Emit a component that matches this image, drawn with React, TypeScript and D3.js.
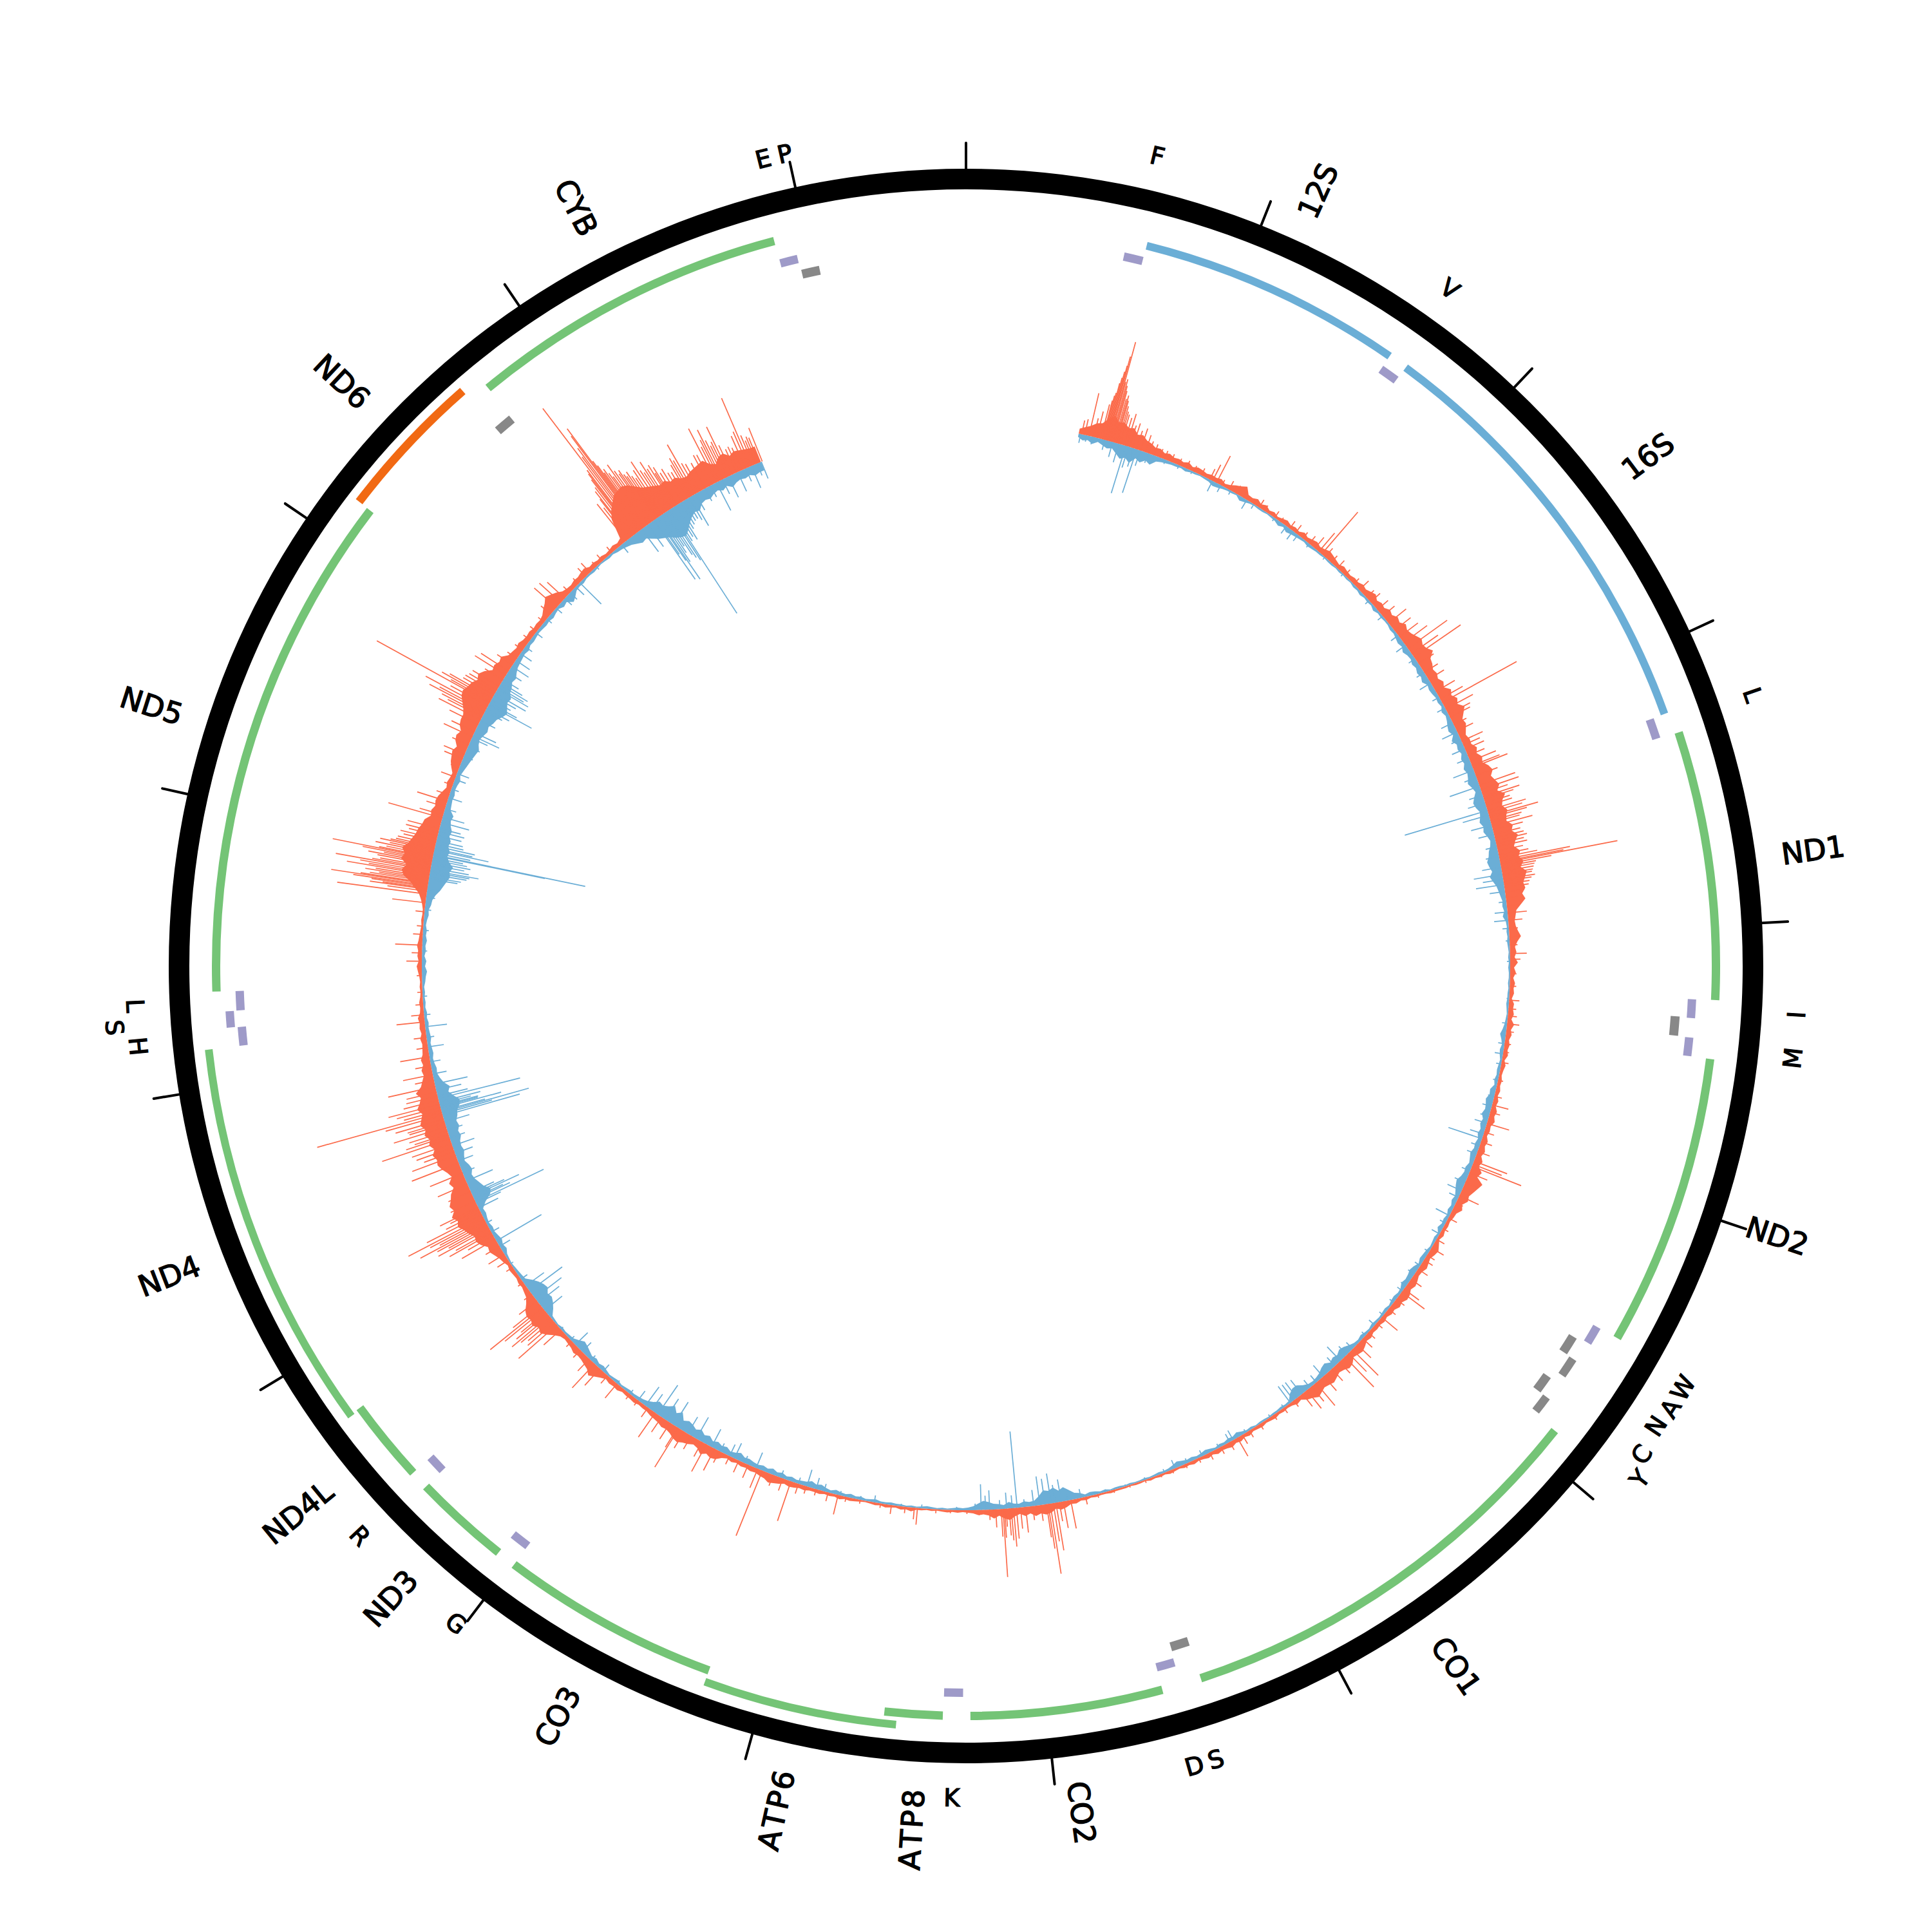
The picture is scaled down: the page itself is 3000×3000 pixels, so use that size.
import { useEffect, useRef } from 'react';
import * as d3 from 'd3';

const GENOME = 16569;
const tickPositions = [0, 1000, 2000, 3000, 4000, 5000, 6000, 7000, 8000, 9000, 10000, 11000, 12000, 13000, 14000, 15000, 16000];

// name, start, end
const rrnaGenes: [string, number, number][] = [['12S', 648, 1601], ['16S', 1671, 3229]];
const innerGenes: [string, number, number][] = [
  ['ND1', 3307, 4262], ['ND2', 4470, 5511], ['CO1', 5904, 7445], ['CO2', 7586, 8269],
  ['ATP8', 8366, 8572], ['CO3', 9207, 9990], ['ND3', 10059, 10404], ['ND4L', 10470, 10766],
  ['ND5', 12337, 14148], ['CYB', 14747, 15887],
];
const outerGenes: [string, number, number][] = [['ATP6', 8527, 9207], ['ND4', 10760, 12137]];
const minusGenes: [string, number, number][] = [['ND6', 14149, 14673]];
const trnaPlus: [string, number, number][] = [
  ['F', 577, 647], ['V', 1602, 1670], ['L', 3230, 3304], ['I', 4263, 4331], ['M', 4402, 4469],
  ['W', 5512, 5579], ['D', 7518, 7585], ['K', 8295, 8364], ['G', 9991, 10058], ['R', 10405, 10469],
  ['H', 12138, 12206], ['L2', 12266, 12336], ['T', 15888, 15953],
];
const trnaS2: [string, number, number][] = [['S2', 12207, 12265]];
const trnaMinus: [string, number, number][] = [
  ['Q', 4329, 4400], ['A', 5587, 5655], ['C', 5761, 5826], ['S', 7446, 7514], ['E', 14674, 14742], ['P', 15956, 16023],
];
const trnaMinusHigh: [string, number, number][] = [['N', 5657, 5729], ['Y', 5826, 5891]];

// radial labels: text, position
const longLabels: [string, number][] = [
  ['12S', 1124], ['16S', 2450], ['ND1', 3784], ['ND2', 4990], ['CO1', 6674], ['CO2', 7927],
  ['ATP8', 8450], ['ATP6', 8867], ['CO3', 9598], ['ND3', 10231], ['ND4L', 10618], ['ND4', 11448],
  ['ND5', 13242], ['ND6', 14411], ['CYB', 15317],
];
// tangential labels: text, position, radius
const shortLabels: [string, number, number][] = [
  ['F', 612, 1292], ['V', 1636, 1292], ['L', 3267, 1292], ['I', 4297, 1292], ['M', 4435, 1292],
  ['W', 5545, 1292], ['A', 5621, 1292], ['N', 5693, 1288], ['C', 5793, 1295], ['Y', 5858, 1315],
  ['S', 7480, 1292], ['D', 7551, 1292], ['K', 8330, 1292], ['G', 10024, 1292], ['R', 10437, 1292],
  ['H', 12172, 1292], ['S', 12236, 1326], ['L', 12301, 1292], ['E', 15920, 1292], ['P', 15990, 1292],
];

// envelope of each coverage series, one value per 25 bp from 550 to 15550 (20 values = 500 bp per row)
const bodyStart = 550;
const redBody = [
  8, 12, 16, 22, 24, 34, 40, 32, 34, 28, 30, 22, 24, 18, 16, 12, 13, 9, 11, 8,
  9, 7, 10, 6, 9, 8, 6, 8, 7, 9, 5, 7, 11, 14, 18, 8, 7, 10, 6, 9,
  5, 7, 4, 6, 8, 5, 7, 5, 9, 6, 8, 10, 7, 9, 12, 10, 8, 6, 9, 7,
  6, 8, 7, 10, 8, 11, 14, 9, 12, 10, 15, 12, 17, 14, 20, 16, 18, 22, 26, 22,
  24, 30, 20, 18, 14, 16, 13, 18, 14, 22, 18, 24, 20, 28, 22, 16, 18, 14, 10, 13,
  12, 18, 14, 20, 17, 24, 28, 22, 26, 30, 24, 34, 27, 24, 30, 26, 24, 32, 28, 36,
  30, 26, 34, 30, 36, 30, 38, 34, 30, 32, 26, 30, 22, 14, 12, 10, 11, 14, 18, 12,
  8, 10, 7, 12, 6, 9, 5, 8, 6, 7, 4, 8, 7, 9, 6, 11, 7, 9, 6, 8,
  6, 8, 4, 7, 5, 4, 6, 5, 7, 5, 8, 6, 10, 8, 11, 7, 8, 6, 10, 8,
  11, 8, 13, 10, 18, 14, 26, 22, 18, 14, 16, 10, 14, 8, 7, 5, 6, 5, 7, 4,
  8, 12, 10, 7, 9, 11, 8, 7, 10, 12, 9, 13, 14, 10, 12, 8, 9, 6, 8, 6,
  7, 6, 9, 7, 11, 14, 12, 10, 16, 18, 14, 12, 15, 18, 16, 14, 17, 20, 15, 12,
  6, 8, 5, 4, 5, 4, 6, 5, 4, 6, 5, 4, 7, 5, 8, 6, 9, 7, 6, 8,
  5, 7, 5, 4, 6, 4, 5, 3, 4, 5, 3, 4, 3, 4, 2, 3, 3, 2, 3, 3,
  3, 4, 3, 3, 4, 3, 5, 4, 7, 6, 10, 12, 9, 14, 16, 13, 16, 11, 14, 10,
  13, 18, 15, 10, 14, 9, 7, 8, 5, 4, 3, 4, 3, 4, 3, 2, 3, 2, 3, 3,
  6, 4, 5, 3, 4, 5, 3, 4, 3, 2, 3, 4, 5, 4, 6, 4, 5, 4, 6, 5,
  5, 7, 6, 8, 9, 7, 10, 12, 14, 10, 9, 7, 8, 6, 7, 5, 7, 5, 8, 14,
  16, 13, 18, 12, 10, 14, 16, 20, 18, 14, 12, 13, 10, 9, 8, 6, 6, 5, 7, 6,
  6, 5, 8, 7, 8, 6, 10, 15, 20, 14, 12, 10, 9, 11, 8, 7, 6, 8, 14, 22,
  28, 24, 30, 26, 28, 24, 16, 10, 8, 6, 7, 5, 6, 7, 5, 8, 10, 14, 18, 16,
  24, 28, 26, 32, 36, 42, 38, 44, 36, 40, 34, 30, 22, 26, 18, 22, 28, 32, 30, 34,
  28, 34, 30, 36, 32, 38, 34, 30, 36, 30, 26, 32, 22, 18, 14, 16, 12, 14, 10, 9,
  8, 10, 7, 9, 8, 10, 6, 5, 6, 4, 3, 4, 3, 4, 6, 8, 5, 7, 6, 8,
  6, 5, 4, 3, 4, 3, 3, 5, 8, 12, 20, 28, 40, 44, 38, 48, 44, 50, 42, 38,
  34, 32, 28, 26, 18, 20, 16, 18, 16, 12, 8, 10, 8, 7, 12, 16, 18, 20, 16, 22,
  24, 20, 26, 28, 28, 32, 38, 44, 46, 42, 40, 34, 38, 32, 22, 24, 20, 22, 14, 12,
  10, 12, 9, 8, 9, 7, 8, 7, 9, 14, 18, 24, 20, 16, 10, 8, 7, 9, 8, 10,
  11, 7, 8, 6, 7, 5, 6, 8, 6, 9, 40, 52, 60, 68, 70, 72, 68, 60, 52, 48,
  44, 40, 42, 36, 38, 32, 30, 34, 36, 38, 40, 30, 26, 34, 36, 28, 32, 30, 28, 26,
  26,
];
const blueBody = [
  5, 9, 7, 11, 6, 9, 12, 10, 16, 22, 18, 24, 14, 18, 12, 16, 8, 6, 5, 4,
  4, 3, 5, 3, 3, 2, 3, 4, 7, 6, 4, 3, 3, 2, 7, 5, 3, 2, 3, 3,
  2, 3, 4, 7, 4, 8, 6, 5, 4, 3, 5, 4, 3, 3, 2, 3, 3, 2, 3, 2,
  3, 2, 4, 3, 5, 3, 4, 3, 6, 3, 4, 3, 3, 5, 4, 6, 8, 6, 10, 7,
  6, 9, 7, 10, 8, 11, 6, 8, 7, 5, 6, 4, 8, 5, 7, 10, 12, 8, 14, 9,
  11, 8, 12, 10, 14, 11, 13, 16, 12, 9, 14, 18, 16, 12, 14, 17, 13, 15, 11, 8,
  10, 14, 16, 20, 18, 15, 20, 16, 12, 10, 8, 6, 7, 5, 8, 4, 3, 4, 3, 4,
  3, 2, 3, 2, 3, 2, 2, 3, 2, 3, 3, 4, 3, 2, 3, 4, 6, 9, 6, 4,
  6, 5, 3, 4, 5, 4, 6, 4, 9, 8, 12, 10, 9, 12, 8, 10, 7, 9, 6, 8,
  7, 10, 8, 6, 9, 8, 10, 14, 12, 9, 6, 8, 5, 7, 4, 6, 5, 8, 3, 5,
  4, 3, 5, 6, 7, 4, 8, 10, 8, 7, 9, 5, 4, 6, 5, 3, 5, 4, 3, 4,
  5, 3, 4, 6, 4, 5, 8, 12, 14, 10, 12, 9, 14, 12, 8, 6, 5, 6, 10, 16,
  16, 12, 4, 3, 4, 3, 3, 2, 3, 3, 2, 4, 3, 5, 8, 5, 6, 4, 5, 3,
  5, 7, 5, 4, 6, 5, 7, 9, 6, 4, 3, 4, 3, 2, 3, 2, 2, 3, 2, 3,
  3, 2, 4, 3, 5, 6, 4, 8, 10, 16, 22, 18, 24, 20, 22, 14, 8, 7, 9, 6,
  7, 10, 6, 8, 9, 12, 14, 10, 6, 4, 3, 4, 3, 2, 3, 2, 3, 4, 3, 2,
  3, 2, 3, 3, 4, 3, 3, 5, 4, 3, 5, 4, 6, 4, 5, 7, 4, 6, 9, 7,
  10, 7, 6, 5, 7, 5, 8, 6, 9, 6, 8, 6, 7, 9, 8, 12, 9, 7, 11, 9,
  12, 9, 14, 11, 16, 12, 16, 18, 14, 24, 18, 26, 20, 16, 18, 12, 8, 6, 5, 4,
  5, 4, 3, 5, 4, 3, 5, 7, 5, 8, 6, 9, 12, 14, 9, 5, 4, 3, 4, 2,
  3, 4, 12, 18, 22, 20, 26, 24, 20, 14, 6, 5, 4, 3, 2, 3, 4, 8, 6, 9,
  7, 5, 6, 4, 5, 7, 6, 14, 26, 30, 22, 18, 14, 12, 16, 14, 10, 12, 15, 13,
  14, 18, 16, 20, 18, 22, 24, 30, 32, 24, 18, 22, 14, 10, 7, 8, 6, 5, 7, 6,
  5, 7, 6, 5, 6, 4, 5, 3, 4, 3, 4, 3, 5, 6, 8, 5, 7, 4, 6, 5,
  7, 5, 6, 4, 5, 7, 6, 9, 10, 14, 20, 24, 28, 32, 30, 34, 26, 22, 24, 20,
  22, 18, 20, 16, 14, 16, 9, 8, 7, 8, 6, 7, 9, 6, 8, 10, 12, 14, 16, 18,
  14, 12, 15, 18, 16, 20, 22, 28, 32, 28, 24, 26, 20, 18, 14, 16, 12, 9, 8, 7,
  6, 8, 5, 6, 5, 4, 5, 6, 5, 7, 5, 4, 8, 6, 14, 10, 5, 4, 5, 3,
  3, 4, 3, 2, 3, 4, 3, 5, 6, 8, 10, 14, 18, 16, 22, 28, 32, 36, 42, 46,
  48, 42, 34, 28, 24, 26, 18, 16, 18, 14, 12, 16, 12, 18, 14, 12, 14, 12, 16, 14,
  14,
];

// individual peaks: position, height
const redPeaks: [number, number][] = [
  [565, 22], [580, 25], [601, 68], [625, 30], [640, 42], [660, 55], [668, 62], [672, 70], [676, 75], [680, 91], [684, 100], [688, 110], [692, 120], [695, 135], [700, 159], [704, 95], [710, 100], [715, 90], [720, 82], [727, 70], [733, 76], [738, 68], [745, 60], [752, 52], [760, 48], [775, 44], [789, 52], [805, 35], [820, 40], [840, 30], [860, 36], [885, 28], [905, 20], [930, 18], [960, 14], [985, 14], [1020, 13], [1060, 11], [1100, 13], [1140, 10], [1180, 12], [1225, 18], [1240, 28], [1261, 47], [1290, 10], [1330, 15], [1370, 14], [1410, 10], [1470, 9], [1500, 14], [1530, 10], [1590, 12], [1625, 8], [1680, 14], [1715, 15], [1760, 12], [1800, 15], [1835, 22], [1860, 38], [1878, 86], [1900, 18], [1940, 14], [1980, 16], [2030, 12], [2090, 12], [2130, 20], [2180, 16], [2210, 20], [2260, 22], [2300, 24], [2345, 35], [2390, 32], [2430, 36], [2465, 45], [2499, 75], [2530, 50], [2550, 88], [2590, 28], [2640, 25], [2680, 28], [2748, 34], [2790, 40], [2810, 132], [2845, 48], [2873, 38], [2890, 35], [2930, 22], [2964, 28], [3019, 36], [3040, 28], [3061, 32], [3095, 28], [3125, 43], [3148, 46], [3157, 58], [3200, 36], [3249, 59], [3272, 62], [3290, 42], [3309, 59], [3320, 48], [3340, 40], [3355, 42], [3378, 62], [3390, 55], [3406, 79], [3415, 60], [3430, 50], [3440, 46], [3457, 65], [3475, 48], [3498, 42], [3515, 46], [3530, 50], [3545, 44], [3560, 48], [3580, 40], [3600, 47], [3615, 60], [3627, 111], [3635, 100], [3641, 185], [3650, 80], [3660, 55], [3670, 52], [3682, 50], [3695, 48], [3705, 46], [3720, 50], [3730, 44], [3745, 40], [3760, 38], [3783, 30], [3810, 18], [3850, 20], [3885, 30], [3920, 22], [3960, 14], [4000, 14], [4040, 12], [4082, 26], [4110, 16], [4180, 10], [4240, 10], [4308, 16], [4350, 12], [4385, 14], [4423, 19], [4460, 12], [4520, 10], [4560, 9], [4612, 11], [4700, 8], [4780, 12],
  [4823, 26], [4860, 16], [4916, 36], [4960, 16], [5010, 18], [5060, 20], [5109, 55], [5125, 48], [5136, 82], [5170, 30], [5220, 22], [5291, 33], [5330, 12], [5412, 15], [5470, 10], [5530, 14], [5578, 22], [5620, 14], [5647, 16], [5700, 18], [5760, 20], [5818, 29], [5836, 44], [5880, 16], [5940, 14], [5992, 32], [6030, 12], [6090, 14], [6130, 20], [6170, 30], [6204, 57], [6230, 40], [6255, 65], [6290, 24], [6340, 25], [6393, 30], [6443, 46], [6470, 30], [6500, 36], [6527, 25], [6580, 12], [6640, 10], [6700, 9], [6780, 10], [6840, 12], [6880, 16], [6908, 33], [6950, 14], [7000, 12], [7060, 12], [7120, 8], [7190, 7], [7260, 6], [7320, 5], [7400, 5], [7480, 4], [7560, 5], [7640, 6], [7700, 12], [7774, 45], [7810, 42], [7830, 30], [7847, 75], [7860, 60], [7875, 110], [7885, 70], [7893, 52], [7920, 25], [7960, 22], [7995, 40], [8020, 33], [8040, 48], [8054, 60], [8065, 50], [8075, 42], [8090, 28], [8098, 45], [8105, 106], [8114, 43], [8140, 28], [8170, 16], [8220, 8], [8280, 6], [8360, 5], [8430, 6], [8520, 26], [8535, 18], [8580, 10], [8647, 14], [8700, 7], [8800, 6], [8870, 8],
  [8910, 31], [8960, 14], [9020, 10], [9070, 12], [9110, 16], [9148, 65], [9190, 20], [9240, 18], [9296, 109], [9320, 32], [9370, 22], [9420, 20], [9470, 14], [9525, 20], [9550, 38], [9596, 48], [9620, 26], [9680, 24], [9720, 30], [9750, 71], [9757, 36], [9800, 30], [9850, 28], [9887, 46], [9930, 18], [9990, 10], [10040, 10], [10120, 29], [10180, 16], [10230, 35], [10265, 51], [10300, 26], [10360, 16], [10420, 12], [10498, 36], [10528, 79], [10545, 55], [10560, 50], [10575, 60], [10586, 75], [10600, 62], [10610, 50], [10625, 78], [10637, 104], [10650, 55], [10680, 35], [10720, 15], [10790, 10], [10880, 12], [10920, 20], [10955, 29], [11000, 25], [11040, 60], [11060, 45], [11075, 75], [11085, 62], [11100, 90], [11110, 70], [11120, 88], [11130, 116], [11140, 80], [11150, 95], [11161, 131], [11176, 96], [11190, 60], [11205, 50], [11216, 66], [11250, 42], [11300, 38], [11340, 50], [11397, 55], [11450, 78], [11490, 72], [11510, 50], [11530, 60], [11550, 65], [11575, 111], [11590, 70], [11600, 55], [11615, 62], [11635, 85], [11650, 58], [11660, 60], [11675, 78], [11695, 92], [11708, 201], [11720, 60], [11735, 70], [11750, 82], [11770, 56], [11790, 50], [11810, 48], [11838, 75], [11870, 30], [11897, 47], [11940, 25], [11985, 46], [12030, 18], [12080, 20], [12155, 44], [12190, 20], [12240, 12], [12300, 8], [12380, 8], [12450, 24], [12490, 16], [12528, 42], [12580, 15], [12620, 10], [12690, 14], [12734, 52], [12776, 140], [12790, 62], [12800, 90], [12805, 70], [12812, 88], [12818, 117], [12825, 152], [12830, 106], [12838, 92], [12845, 78], [12852, 100], [12860, 84], [12869, 130], [12876, 96], [12884, 110], [12893, 149], [12900, 92], [12908, 80], [12920, 85], [12928, 100], [12936, 76], [12943, 110], [12950, 158], [12956, 85], [12965, 74], [12975, 92], [12984, 70], [12993, 86], [13000, 70], [13008, 62], [13020, 60], [13035, 52], [13048, 58], [13065, 46], [13080, 52], [13099, 51], [13153, 87], [13168, 38], [13209, 31], [13237, 49], [13270, 21], [13320, 14], [13361, 24], [13410, 14], [13457, 31], [13480, 35], [13530, 28], [13573, 49], [13600, 40], [13640, 50], [13665, 73], [13680, 60], [13690, 72], [13702, 96], [13712, 80], [13725, 107], [13740, 66], [13757, 200], [13765, 70], [13775, 88], [13785, 76], [13800, 55], [13815, 54], [13830, 50], [13850, 48], [13886, 33], [13913, 57], [13937, 51], [13973, 29], [14010, 18], [14060, 15], [14120, 13], [14172, 13], [14230, 12], [14280, 20], [14323, 46], [14355, 45], [14383, 37], [14420, 14], [14480, 12], [14530, 18], [14558, 20], [14600, 10], [14640, 13], [14700, 12],
  [14792, 73], [14805, 62], [14815, 76], [14820, 90], [14830, 95], [14838, 108], [14843, 118], [14848, 124], [14857, 242], [14865, 145], [14872, 160], [14880, 181], [14885, 194], [14890, 130], [14895, 120], [14900, 105], [14907, 110], [14915, 100], [14922, 92], [14931, 112], [14940, 98], [14950, 90], [14957, 95], [14965, 85], [14972, 80], [14981, 86], [14990, 76], [15000, 70], [15010, 82], [15023, 95], [15035, 76], [15045, 70], [15055, 87], [15065, 72], [15078, 76], [15085, 60], [15092, 69], [15105, 56], [15120, 60], [15135, 50], [15150, 48], [15165, 58], [15175, 68], [15185, 62], [15197, 88], [15211, 52], [15225, 48], [15250, 45], [15276, 54], [15290, 52], [15312, 94], [15325, 60], [15335, 70], [15344, 86], [15355, 66], [15365, 55], [15375, 60], [15386, 84], [15400, 50], [15420, 40], [15435, 42], [15450, 38], [15469, 55], [15485, 60], [15497, 115], [15510, 50], [15520, 40], [15530, 45], [15540, 42], [15557, 56],
];
const bluePeaks: [number, number][] = [
  [560, 14], [590, 10], [620, 12], [680, 16], [720, 24], [750, 30], [786, 77], [800, 34], [825, 30], [842, 71], [860, 25], [900, 16], [930, 10], [990, 7], [1060, 6], [1130, 5], [1240, 18], [1285, 12], [1340, 7], [1430, 16], [1470, 8], [1590, 6], [1660, 14], [1700, 16], [1730, 12], [1800, 7], [1900, 5], [2020, 5], [2200, 8], [2300, 10], [2420, 14], [2480, 18], [2560, 12], [2640, 14], [2700, 20], [2780, 12], [2840, 14], [2920, 20], [2970, 26], [3010, 16], [3060, 22], [3110, 20], [3171, 34], [3210, 20], [3254, 49], [3300, 22], [3340, 28], [3378, 134], [3401, 42], [3452, 33], [3498, 25], [3560, 18], [3608, 21], [3660, 30], [3696, 45], [3720, 32], [3746, 44], [3780, 24], [3830, 12], [3880, 20], [3921, 22], [3960, 10], [4020, 6], [4120, 5], [4300, 4], [4420, 8], [4520, 10], [4570, 13], [4620, 8], [4700, 8], [4780, 10], [4830, 15], [4880, 14], [4915, 20], [4970, 22], [4994, 55], [5030, 14], [5072, 16], [5160, 14], [5220, 18], [5265, 24], [5300, 16], [5399, 24], [5440, 10], [5500, 14], [5600, 8], [5680, 10], [5730, 12], [5800, 10], [5830, 10], [5900, 8], [5980, 8], [6043, 12], [6110, 8], [6200, 14], [6240, 18], [6283, 30], [6320, 18], [6397, 23], [6440, 14], [6480, 15], [6531, 28], [6560, 30], [6580, 30], [6600, 32], [6640, 6], [6720, 5], [6860, 6], [6931, 17], [6950, 14], [7010, 7], [7100, 10], [7180, 8], [7245, 14], [7300, 6], [7400, 4], [7500, 3], [7600, 4], [7723, 14], [7790, 10], [7820, 35], [7850, 28], [7870, 47], [7900, 40], [7925, 45], [7955, 25], [8000, 12], [8036, 119], [8060, 20], [8087, 25], [8120, 14], [8170, 30], [8190, 22], [8211, 40], [8240, 10], [8330, 5], [8500, 6], [8600, 4], [8731, 11], [8800, 6], [8900, 7], [8980, 12], [9020, 18], [9067, 27], [9110, 10], [9200, 12], [9329, 26], [9390, 12], [9444, 26], [9470, 20], [9520, 14], [9568, 31], [9652, 38], [9700, 30], [9780, 42], [9830, 38], [9873, 55], [9910, 30], [9946, 36], [9990, 18], [10040, 8], [10120, 6], [10210, 14], [10290, 10], [10350, 20], [10397, 27], [10430, 8], [10500, 5], [10620, 35], [10668, 41], [10696, 52], [10738, 63], [10770, 35], [10810, 12], [10900, 5], [11000, 19], [11030, 81], [11080, 14], [11130, 10], [11212, 34], [11235, 42], [11244, 117], [11258, 61], [11265, 50], [11276, 79], [11285, 55], [11296, 39], [11355, 45], [11400, 20], [11460, 25], [11500, 29], [11538, 36], [11580, 25], [11620, 25], [11660, 40], [11690, 124], [11700, 80], [11708, 140], [11715, 70], [11728, 97], [11735, 60], [11741, 61], [11750, 50], [11760, 66], [11778, 131], [11790, 48], [11820, 40], [11850, 52], [11900, 22], [11960, 16], [12033, 25], [12080, 12], [12132, 34], [12190, 10], [12280, 7], [12400, 7], [12500, 8], [12600, 9], [12700, 10], [12760, 14], [12800, 18], [12850, 45], [12860, 50], [12875, 58], [12885, 62], [12893, 76], [12905, 60], [12920, 52], [12933, 61], [12945, 55], [12955, 48], [12967, 177], [12970, 241], [12980, 58], [12993, 86], [13000, 60], [13013, 63], [13025, 44], [13040, 42], [13065, 38], [13085, 41], [13100, 34], [13131, 45], [13158, 35], [13200, 18], [13256, 22], [13300, 12], [13350, 18], [13380, 20], [13430, 10], [13470, 15], [13520, 20], [13565, 27], [13578, 45], [13596, 37], [13660, 26], [13710, 30], [13725, 40], [13747, 76], [13757, 48], [13775, 34], [13795, 40], [13810, 55], [13835, 55], [13845, 45], [13858, 50], [13870, 38], [13888, 28], [13930, 25], [13965, 31], [14000, 26], [14040, 21], [14080, 13], [14165, 13], [14250, 10], [14320, 12], [14382, 15], [14420, 15], [14460, 18], [14488, 47], [14600, 6], [14762, 16], [14885, 44], [14921, 42], [14958, 112], [14965, 66], [14975, 80], [14981, 116], [14990, 85], [15000, 70], [15010, 60], [15020, 78], [15030, 85], [15042, 92], [15050, 192], [15060, 60], [15075, 55], [15087, 62], [15100, 45], [15115, 40], [15130, 36], [15145, 35], [15160, 40], [15174, 53], [15197, 29], [15250, 22], [15280, 20], [15312, 49], [15345, 25], [15377, 36], [15427, 33], [15470, 22], [15500, 37], [15530, 20], [15552, 28],
];

export default function App() {
  const svgRef = useRef<SVGSVGElement | null>(null);

  useEffect(() => {
    const svg = d3.select(svgRef.current);
    svg.selectAll('*').remove();

    const size = 3000;
    const g = svg.append('g').attr('transform', `translate(${size / 2},${size / 2})`);
    const angle = d3.scaleLinear().domain([0, GENOME]).range([0, 2 * Math.PI]);
    const deg = d3.scaleLinear().domain([0, GENOME]).range([0, 360]);
    const baseR = 845;

    const arc = d3.arc();
    const polar = (bp: number, r: number) => d3.pointRadial(angle(bp), r);

    // outer ring
    g.append('path')
      .attr('fill', '#000')
      .attr('d', arc({ innerRadius: 1206, outerRadius: 1238, startAngle: 0, endAngle: 2 * Math.PI } as any));

    // ticks
    g.selectAll('line.tick')
      .data(tickPositions)
      .join('line')
      .attr('class', 'tick')
      .attr('x1', d => polar(d, 1236)[0])
      .attr('y1', d => polar(d, 1236)[1])
      .attr('x2', d => polar(d, 1278)[0])
      .attr('y2', d => polar(d, 1278)[1])
      .attr('stroke', '#000')
      .attr('stroke-width', 4)
      .attr('stroke-linecap', 'round');

    // gene tracks
    const drawTrack = (genes: [string, number, number][], r0: number, r1: number, fill: string) => {
      g.append('g')
        .selectAll('path')
        .data(genes)
        .join('path')
        .attr('fill', fill)
        .attr('d', d => arc({ innerRadius: r0, outerRadius: r1, startAngle: angle(d[1]), endAngle: angle(d[2]) } as any));
    };
    drawTrack(rrnaGenes, 1147, 1159, '#6BAED6');
    drawTrack(innerGenes, 1158, 1171, '#74C476');
    drawTrack(outerGenes, 1177, 1189, '#74C476');
    drawTrack(minusGenes, 1180, 1193, '#F16913');
    drawTrack(trnaPlus, 1122, 1135, '#9E9AC8');
    drawTrack(trnaS2, 1139, 1152, '#9E9AC8');
    drawTrack(trnaMinus, 1097, 1111, '#888888');
    drawTrack(trnaMinusHigh, 1116, 1129, '#888888');

    // coverage series
    const bodyData = (values: number[]) => values.map((v, i) => [bodyStart + i * 25, v]);
    const outward = d3.areaRadial<number[]>()
      .angle(d => angle(d[0]))
      .innerRadius(baseR)
      .outerRadius(d => baseR + d[1]);
    const inward = d3.areaRadial<number[]>()
      .angle(d => angle(d[0]))
      .innerRadius(baseR)
      .outerRadius(d => baseR - d[1]);

    g.append('path').attr('fill', '#6BAED6').attr('d', inward(bodyData(blueBody)));
    g.append('path').attr('fill', '#FB6A4A').attr('d', outward(bodyData(redBody)));

    const drawPeaks = (peaks: [number, number][], dir: number, color: string) => {
      g.append('g')
        .selectAll('line')
        .data(peaks)
        .join('line')
        .attr('x1', d => polar(d[0], baseR)[0])
        .attr('y1', d => polar(d[0], baseR)[1])
        .attr('x2', d => polar(d[0], baseR + dir * d[1])[0])
        .attr('y2', d => polar(d[0], baseR + dir * d[1])[1])
        .attr('stroke', color)
        .attr('stroke-width', 1.7);
    };
    drawPeaks(bluePeaks, -1, '#6BAED6');
    drawPeaks(redPeaks, 1, '#FB6A4A');

    // radial gene labels
    g.append('g')
      .selectAll('text')
      .data(longLabels)
      .join('text')
      .attr('font-family', 'DejaVu Sans')
      .attr('font-size', 46)
      .attr('fill', '#000')
      .attr('stroke', '#000')
      .attr('stroke-width', 1.4)
      .attr('letter-spacing', d => (d[0].startsWith('ATP') ? 3 : 0))
      .style('font-kerning', 'none')
      .attr('dominant-baseline', 'central')
      .attr('text-anchor', d => (deg(d[1]) < 180 ? 'start' : 'end'))
      .attr('transform', d => {
        const a = deg(d[1]);
        const [x, y] = polar(d[1], 1278);
        return `translate(${x},${y}) rotate(${a < 180 ? a - 90 : a + 90})`;
      })
      .text(d => d[0]);

    // tangential tRNA labels
    g.append('g')
      .selectAll('text')
      .data(shortLabels)
      .join('text')
      .attr('font-family', 'DejaVu Sans')
      .attr('font-size', 38)
      .attr('fill', '#000')
      .attr('stroke', '#000')
      .attr('stroke-width', 1.4)
      .attr('text-anchor', 'middle')
      .attr('dominant-baseline', 'central')
      .attr('transform', d => {
        const a = deg(d[1]);
        const [x, y] = polar(d[1], d[2]);
        const flip = a > 90 && a < 270;
        return `translate(${x},${y}) rotate(${flip ? a - 180 : a})`;
      })
      .text(d => d[0]);
  }, []);

  return <svg ref={svgRef} width={3000} height={3000} style={{ position: 'absolute', left: 0, top: 0, background: '#fff' }}></svg>;
}
